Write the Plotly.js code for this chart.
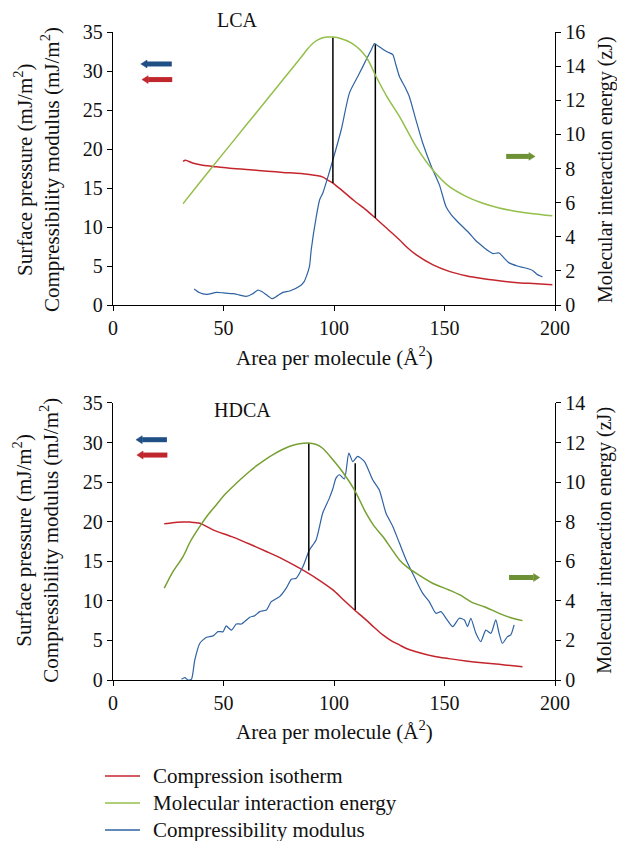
<!DOCTYPE html>
<html>
<head>
<meta charset="utf-8">
<script src="https://cdn.plot.ly/plotly-3.0.1.min.js"></script>
<style>html,body{margin:0;padding:0;background:#fff;}#chart{width:617px;height:841px;}</style>
</head>
<body>
<div id="chart"></div>
<script>
// ---------- LCA (top panel) ----------
const lcaIsoX = [31.7, 32.8, 36, 40, 45.3, 52, 61.9, 70, 76.9, 85, 91.9, 95, 97, 99.5, 104, 109, 114.5, 118.7, 124, 129.6, 133, 137.1, 144.6, 152.1, 159.7, 167, 174.7, 182, 190, 198.8];
const lcaIsoY = [18.4, 18.55, 18.2, 17.95, 17.77, 17.55, 17.35, 17.15, 17.0, 16.85, 16.6, 16.4, 16.05, 15.64, 14.6, 13.4, 12.2, 11.15, 9.8, 8.37, 7.4, 6.45, 5.17, 4.31, 3.76, 3.4, 3.12, 2.9, 2.75, 2.6];

const lcaEnergyX = [31.7, 40, 50, 60, 69.4, 80, 85, 88, 91, 94, 97, 99.5, 103, 108, 114.5, 119, 124, 129.6, 137.1, 144.6, 152.1, 159.7, 167, 174.7, 182, 190, 198.8];
const lcaEnergyY = [5.94, 7.3, 8.9, 10.5, 12.0, 13.7, 14.5, 15.0, 15.4, 15.62, 15.7, 15.7, 15.62, 15.35, 14.55, 13.4, 12.2, 11.05, 9.3, 7.93, 6.95, 6.37, 5.98, 5.69, 5.5, 5.35, 5.23];

const lcaModX = [36.7, 39, 42.3, 46.8, 50, 54.3, 57, 60.3, 63, 65.6, 67.5, 69.4, 72.1, 74.5, 76.9, 80, 84.4, 86.5, 87.5, 88.9, 89.7, 92, 93.5, 95, 97, 99.5, 103.3, 107, 111.5, 114.5, 117, 118.3, 120, 122.1, 124.5, 126.6, 128, 129.6, 132, 134.1, 137, 140.1, 144, 147.7, 150.7, 153, 155.2, 158, 161.2, 164, 167.3, 169.5, 171.8, 174.7, 177, 179.2, 183, 186.7, 190, 192, 194.3];
const lcaModY = [2.05, 1.6, 1.36, 1.62, 1.55, 1.45, 1.3, 1.1, 1.4, 1.92, 1.7, 1.32, 0.81, 1.2, 1.62, 1.8, 2.39, 3.0, 3.67, 4.95, 7.1, 11.36, 13.5, 14.4, 16.2, 18.6, 22.5, 27.2, 29.7, 31.4, 32.8, 33.5, 33.2, 32.8, 32.4, 32.1, 30.8, 29.3, 28.0, 26.7, 23.8, 20.8, 17.8, 15.4, 12.6, 11.6, 10.9, 10.1, 9.2, 8.3, 7.5, 7.0, 6.6, 6.67, 6.0, 5.4, 5.0, 4.74, 4.4, 3.9, 3.6];

const lcaMarkX = [99.5, 118.7];
const lcaMarkLow = [15.64, 11.15];
const lcaMarkHigh = [34.3, 33.4];

// ---------- HDCA (bottom panel) ----------
const hdcaIsoX = [23.2, 27, 31.7, 35, 39.3, 45, 54.3, 62, 69.4, 77, 84.4, 92, 99.5, 104, 109.3, 114.5, 118, 122.1, 126, 129.6, 133, 137.1, 144.6, 152, 159.7, 167, 174.7, 180, 185.3];
const hdcaIsoY = [19.73, 19.88, 19.95, 19.95, 19.8, 19.0, 18.05, 17.15, 16.23, 15.25, 14.13, 12.85, 11.38, 10.2, 8.85, 7.59, 6.7, 5.69, 4.95, 4.43, 3.95, 3.58, 3.04, 2.7, 2.4, 2.17, 1.98, 1.82, 1.68];

const hdcaEnergyX = [23.2, 27, 31.7, 35, 39.3, 43, 46.8, 50, 54.3, 58, 61.9, 65, 69.4, 73, 76.9, 80, 84.4, 88.2, 92, 95, 99.5, 104, 109.3, 114.5, 118, 122.1, 126, 129.6, 133, 137.1, 144.6, 152.1, 157, 162.7, 168, 174.7, 180, 185.3];
const hdcaEnergyY = [4.64, 5.45, 6.24, 7.0, 7.76, 8.35, 8.86, 9.3, 9.78, 10.17, 10.55, 10.83, 11.18, 11.43, 11.66, 11.81, 11.94, 11.98, 11.9, 11.7, 11.13, 10.5, 9.6, 8.43, 7.8, 7.25, 6.63, 6.07, 5.72, 5.4, 4.89, 4.55, 4.3, 3.91, 3.7, 3.37, 3.15, 3.0];

const hdcaModX = [31, 32.5, 34, 35.5, 37, 39.3, 42.3, 45.3, 47.5, 49.8, 51.2, 53.6, 55.8, 58.1, 61.9, 64, 66.4, 69.4, 71.6, 75.4, 78.4, 80.7, 82.9, 85.9, 88.9, 91.9, 94.9, 97.9, 99.5, 100.9, 102.5, 104.7, 106.7, 108.5, 110.7, 113.8, 117.5, 120.5, 123.5, 126.6, 129.6, 132.6, 136.3, 140.1, 143.1, 146.1, 148.4, 150.7, 153.7, 156.7, 159, 160.4, 161.9, 164.2, 166.4, 168.7, 171, 173.2, 174.7, 176.2, 178.5, 180, 181.5];
const hdcaModY = [0.1, 0.3, 0, 0.1, 2.5, 4.64, 5.4, 5.57, 6.11, 6.1, 6.83, 6.3, 7.08, 7.08, 7.93, 8.1, 8.64, 8.85, 9.9, 10.54, 11.6, 12.73, 12.86, 14.3, 16.44, 17.7, 21.1, 22.98, 24.2, 25.5, 25.93, 25.4, 28.67, 27.6, 28.25, 27.6, 25.3, 24.0, 21.1, 19.4, 17.3, 15.2, 13.07, 10.97, 9.9, 8.43, 8.64, 7.8, 6.74, 7.8, 7.59, 6.74, 7.8, 5.9, 4.85, 6.3, 5.9, 7.6, 5.9, 4.64, 5.48, 5.7, 6.96];

const hdcaMarkX = [88.6, 109.6];
const hdcaMarkLow = [13.82, 8.85];
const hdcaMarkHigh = [29.94, 27.4];

const seriesNames = ['Compression isotherm', 'Molecular interaction energy', 'Compressibility modulus'];
const panelNames = ['LCA', 'HDCA'];
const xTicks = [0, 50, 100, 150, 200];
const xLabel = 'Area per molecule (Å<sup>2</sup>)';
const leftLabels = ['Surface pressure (mJ/m<sup>2</sup>)', 'Compressibility modulus (mJ/m<sup>2</sup>)'];
const rightLabel = 'Molecular interaction energy (zJ)';

// ---------- styling ----------
const RED = '#c4252d', GREEN_T = '#93bf4a', GREEN_B = '#76a032', BLUE = '#2f62a2';
const ARROW_BLUE = '#1f4f85', ARROW_RED = '#c0272d', ARROW_GREEN = '#6f9135';
const FONT = 'Liberation Serif, Times New Roman, serif';
const TXT = '#111';

const traces = [];
function markTraces(xs, lows, highs, xa, ya) {
  xs.forEach((x, i) => {
    traces.push({x: [x, x], y: [lows[i], highs[i]], xaxis: xa, yaxis: ya, mode: 'lines',
      line: {color: '#000', width: 1.5}, showlegend: false, hoverinfo: 'skip'});
  });
}
const smooth = {shape: 'spline', smoothing: 0.8};
traces.push({x: lcaIsoX, y: lcaIsoY, xaxis: 'x', yaxis: 'y', mode: 'lines', name: seriesNames[0], line: Object.assign({color: RED, width: 1.5}, smooth)});
traces.push({x: lcaEnergyX, y: lcaEnergyY, xaxis: 'x', yaxis: 'y2', mode: 'lines', name: seriesNames[1], line: Object.assign({color: GREEN_T, width: 1.5}, smooth)});
traces.push({x: lcaModX, y: lcaModY, xaxis: 'x', yaxis: 'y', mode: 'lines', name: seriesNames[2], line: {color: BLUE, width: 1.2, shape: 'spline', smoothing: 0.6}});
markTraces(lcaMarkX, lcaMarkLow, lcaMarkHigh, 'x', 'y');
traces.push({x: hdcaIsoX, y: hdcaIsoY, xaxis: 'x2', yaxis: 'y3', mode: 'lines', name: seriesNames[0], line: Object.assign({color: RED, width: 1.5}, smooth)});
traces.push({x: hdcaEnergyX, y: hdcaEnergyY, xaxis: 'x2', yaxis: 'y4', mode: 'lines', name: seriesNames[1], line: Object.assign({color: GREEN_B, width: 1.5}, smooth)});
traces.push({x: hdcaModX, y: hdcaModY, xaxis: 'x2', yaxis: 'y3', mode: 'lines', name: seriesNames[2], line: {color: BLUE, width: 1.2, shape: 'spline', smoothing: 0.6}});
markTraces(hdcaMarkX, hdcaMarkLow, hdcaMarkHigh, 'x2', 'y3');
traces.forEach(t => { t.showlegend = false; });

const tickFont = {family: FONT, size: 20, color: TXT};
const baseAxis = {showline: true, linecolor: '#000', linewidth: 1.2, ticks: 'outside', ticklen: 5, tickcolor: '#000', showgrid: false, zeroline: false, tickfont: tickFont};

// plot area in pixels: left 113, right 555, top 32, bottom 680
const annFont = {family: FONT, size: 21, color: TXT};
const annotations = [];
function ann(text, x, y, extra) {
  annotations.push(Object.assign({text: text, x: x, y: y, xref: 'paper', yref: 'paper', showarrow: false,
    xanchor: 'center', yanchor: 'middle', font: annFont}, extra || {}));
}
// panel titles
ann(panelNames[0], 0.2828, 1.0185, {font: {family: FONT, size: 20, color: TXT}});
ann(panelNames[1], 0.2919, 0.4167, {font: {family: FONT, size: 20, color: TXT}});
// x titles
ann(xLabel, 0.5, 0.5, {});
ann(xLabel, 0.5, -0.0787, {});
// left titles (two lines each) and right titles
[0.787, 0.215].forEach(yc => {
  ann(leftLabels[0], -0.2036, yc, {textangle: -90});
  ann(leftLabels[1], -0.1425, yc, {textangle: -90});
  ann(rightLabel, (605 - 113) / 442, yc, {textangle: -90, font: {family: FONT, size: 20, color: TXT}});
});

// legend (drawn manually to match spacing)
const legendColors = [RED, GREEN_T, BLUE];
const legendRowsPx = [776, 803, 830];
const shapes = [];
legendRowsPx.forEach((py, i) => {
  const yp = (680 - py) / 648;
  shapes.push({type: 'line', xref: 'paper', yref: 'paper', x0: (105 - 113) / 442, x1: (140 - 113) / 442, y0: yp, y1: yp,
    line: {color: legendColors[i], width: 1.5}});
  annotations.push({text: seriesNames[i], xref: 'paper', yref: 'paper', x: (151 - 113) / 442, y: yp,
    xanchor: 'left', yanchor: 'middle', showarrow: false, font: {family: FONT, size: 21, color: TXT}});
});

// direction arrows (shaft + head) in data coordinates
function arrow(xref, yref, tipX, tailX, y, color, headLen, headHalf) {
  const dir = tailX > tipX ? 1 : -1;
  const baseX = tipX + dir * headLen;
  shapes.push({type: 'line', xref: xref, yref: yref, x0: baseX, x1: tailX, y0: y, y1: y, line: {color: color, width: 5}});
  shapes.push({type: 'path', xref: xref, yref: yref, path: `M ${tipX},${y} L ${baseX},${y + headHalf} L ${baseX},${y - headHalf} Z`,
    fillcolor: color, line: {color: color, width: 0.5}});
}
arrow('x', 'y', 12.6, 26.6, 30.9, ARROW_BLUE, 2.8, 0.5);
arrow('x', 'y', 13.1, 26.8, 28.9, ARROW_RED, 2.8, 0.5);
arrow('x', 'y', 191.0, 177.9, 19.05, ARROW_GREEN, 2.8, 0.5);
arrow('x2', 'y3', 10.4, 24.4, 30.36, ARROW_BLUE, 2.8, 0.5);
arrow('x2', 'y3', 10.8, 24.6, 28.42, ARROW_RED, 2.8, 0.5);
arrow('x2', 'y3', 193.1, 179.2, 12.95, ARROW_GREEN, 2.8, 0.5);

const layout = {
  width: 617, height: 841,
  margin: {l: 113, r: 62, t: 32, b: 161, autoexpand: false},
  paper_bgcolor: '#fff', plot_bgcolor: '#fff',
  font: {family: FONT, color: TXT},
  showlegend: false,
  xaxis: Object.assign({}, baseAxis, {domain: [0, 1], anchor: 'y', range: [0, 200], tickvals: xTicks}),
  yaxis: Object.assign({}, baseAxis, {domain: [0.5787, 1], anchor: 'x', range: [0, 35], dtick: 5}),
  yaxis2: Object.assign({}, baseAxis, {overlaying: 'y', side: 'right', anchor: 'x', range: [0, 16], dtick: 2}),
  xaxis2: Object.assign({}, baseAxis, {domain: [0, 1], anchor: 'y3', range: [0, 200], tickvals: xTicks}),
  yaxis3: Object.assign({}, baseAxis, {domain: [0, 0.4275], anchor: 'x2', range: [0, 35], dtick: 5}),
  yaxis4: Object.assign({}, baseAxis, {overlaying: 'y3', side: 'right', anchor: 'x2', range: [0, 14], dtick: 2}),
  annotations: annotations,
  shapes: shapes
};

Plotly.newPlot('chart', traces, layout, {staticPlot: true, displayModeBar: false});
</script>
</body>
</html>
